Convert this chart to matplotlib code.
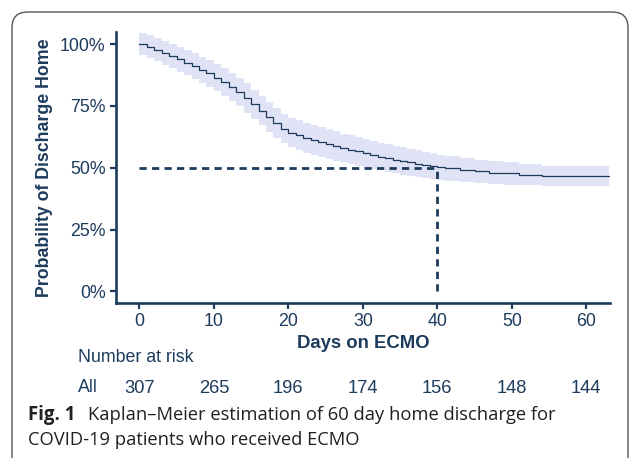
import matplotlib
import matplotlib.pyplot as plt
from matplotlib.patches import FancyBboxPatch

matplotlib.use("Agg")

# Kaplan-Meier step estimate
days = [0, 1, 2, 3, 4, 5, 6, 7, 8, 9, 10, 11, 12, 13, 14, 15, 16, 17, 18, 19,
        20, 21, 22, 23, 24, 25, 26, 27, 28, 29, 30, 31, 32, 33, 34, 35, 36, 37,
        38, 39, 40, 41, 43, 45, 47, 49, 51, 54, 63]
surv = [1.000, 0.990, 0.978, 0.965, 0.952, 0.938, 0.924, 0.910, 0.896, 0.882,
        0.864, 0.846, 0.826, 0.806, 0.782, 0.757, 0.731, 0.706, 0.681, 0.658,
        0.642, 0.631, 0.621, 0.612, 0.603, 0.596, 0.588, 0.580, 0.573, 0.566,
        0.559, 0.552, 0.545, 0.539, 0.532, 0.527, 0.522, 0.517, 0.512, 0.507,
        0.501, 0.497, 0.490, 0.485, 0.480, 0.477, 0.472, 0.466, 0.466]
ci_low = [0.955, 0.944, 0.931, 0.917, 0.903, 0.888, 0.873, 0.858, 0.843, 0.828,
          0.809, 0.790, 0.769, 0.748, 0.723, 0.698, 0.671, 0.646, 0.621, 0.598,
          0.582, 0.571, 0.561, 0.552, 0.543, 0.537, 0.529, 0.522, 0.515, 0.508,
          0.502, 0.495, 0.489, 0.483, 0.477, 0.472, 0.468, 0.463, 0.459, 0.455,
          0.450, 0.447, 0.441, 0.437, 0.434, 0.432, 0.429, 0.425, 0.425]
ci_high = [1.045, 1.036, 1.025, 1.013, 1.001, 0.988, 0.975, 0.962, 0.949, 0.936,
           0.919, 0.902, 0.883, 0.864, 0.841, 0.816, 0.791, 0.766, 0.741, 0.718,
           0.702, 0.691, 0.681, 0.672, 0.663, 0.655, 0.647, 0.638, 0.631, 0.624,
           0.616, 0.609, 0.601, 0.595, 0.587, 0.582, 0.576, 0.571, 0.565, 0.559,
           0.552, 0.547, 0.539, 0.533, 0.526, 0.522, 0.515, 0.507, 0.507]

median_day = 40
risk_days = [0, 10, 20, 30, 40, 50, 60]
at_risk = [307, 265, 196, 174, 156, 148, 144]

NAVY = "#1d3b5c"
BAND = "#dfe3f5"

plt.rcParams["font.family"] = ["Liberation Sans", "DejaVu Sans"]

fig = plt.figure(figsize=(6.3, 4.58), dpi=100)
ax = fig.add_axes([0.1841, 0.3384, 0.9683 - 0.1841, 0.9308 - 0.3384])

ax.fill_between(days, ci_low, ci_high, step="post", color=BAND, lw=0)
ax.step(days, surv, where="post", color=NAVY, lw=0.9)

# median lines
dash = (0, (2.6, 1.9))
ax.plot([0, median_day], [0.5, 0.5], color=NAVY, lw=2.0, ls=dash)
ax.plot([median_day, median_day], [0, 0.5], color=NAVY, lw=2.0, ls=dash)

ax.set_xlim(-3.15, 63.2)
ax.set_ylim(-0.047, 1.05)
ax.set_xticks(risk_days)
ax.set_yticks([0, 0.25, 0.5, 0.75, 1.0])
ax.set_yticklabels(["0%", "25%", "50%", "75%", "100%"])

for side in ("top", "right"):
    ax.spines[side].set_visible(False)
for side in ("left", "bottom"):
    ax.spines[side].set_color(NAVY)
    ax.spines[side].set_linewidth(1.9)
ax.tick_params(colors=NAVY, labelcolor=NAVY, labelsize=12.8, width=1.6,
               length=4.5, pad=3)

ax.set_xlabel("Days on ECMO", fontsize=13.3, fontweight="bold", color=NAVY,
              labelpad=3)
ax.set_ylabel("Probability of Discharge Home", fontsize=12.8,
              fontweight="bold", color=NAVY, labelpad=5)

# number at risk table
fig.text(78 / 630, 1 - 358 / 458, "Number at risk", fontsize=12.8, color=NAVY,
         ha="left", va="center")
fig.text(78 / 630, 1 - 388 / 458, "All", fontsize=12.8, color=NAVY,
         ha="left", va="center")
row_y = (303 - 388) / (303 - 31.7)
for d, n in zip(risk_days, at_risk):
    ax.text(d, row_y, str(n), transform=ax.get_xaxis_transform(),
            fontsize=13.2, color=NAVY, ha="center", va="center", clip_on=False)

# caption
cap_font = ["Open Sans", "DejaVu Sans"]
fig.text(28 / 630, 1 - 415 / 458, "Fig. 1", fontsize=13.4, fontweight="bold",
         color="#231f20", family=cap_font, va="center")
fig.text(88 / 630, 1 - 415 / 458,
         "Kaplan\u2013Meier estimation of 60 day home discharge for",
         fontsize=13.2, color="#231f20", family=cap_font, va="center")
fig.text(28 / 630, 1 - 440 / 458, "COVID-19 patients who received ECMO",
         fontsize=13.2, color="#231f20", family=cap_font, va="center")

# rounded frame around the figure
frame = FancyBboxPatch((12 / 630, -0.2), (628 - 12) / 630, 1 - 12 / 458 + 0.2,
                       boxstyle="round,pad=0,rounding_size=0.025",
                       transform=fig.transFigure, fill=False,
                       edgecolor="#555555", lw=1.0, clip_on=False,
                       mutation_aspect=630 / 458)
fig.patches.append(frame)

fig.savefig("out.png", dpi=100)
